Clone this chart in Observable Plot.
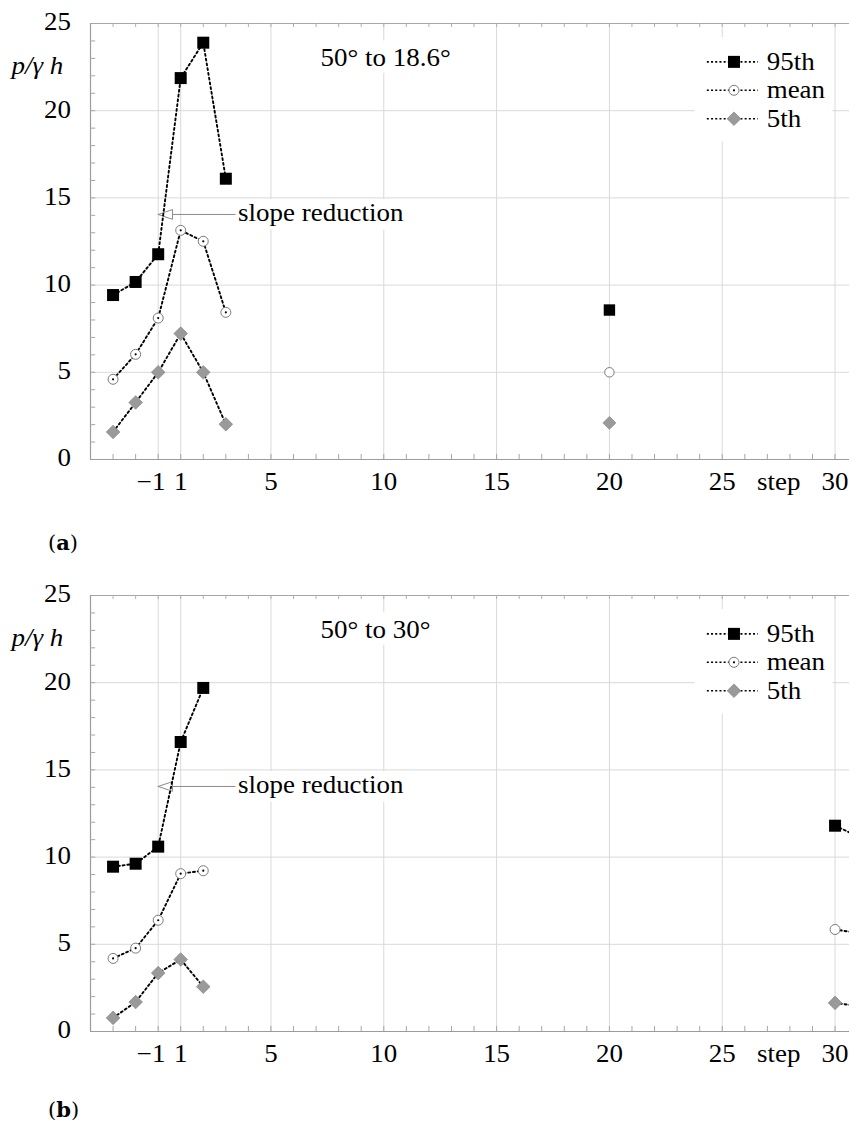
<!DOCTYPE html>
<html><head><meta charset="utf-8">
<script src="https://cdn.jsdelivr.net/npm/d3@7"></script>
<script src="https://cdn.jsdelivr.net/npm/@observablehq/plot@0.6"></script>
<style>
html,body{margin:0;padding:0;background:#fff;overflow:hidden;width:849px;height:1128px}
#root{position:relative;width:849px;height:1128px;background:#fff}
.panel{position:absolute;left:0;width:849px}
.panel svg{overflow:hidden;display:block}
.tag{position:absolute;left:48px;font-family:"DejaVu Serif",serif;font-size:21px;line-height:1;color:#000}
</style></head><body><div id="root">
<div class="panel" id="pa" style="top:0px"></div>
<div class="tag" style="top:532px">(<b>a</b>)</div>
<div class="panel" id="pb" style="top:572px"></div>
<div class="tag" style="top:1099px">(<b>b</b>)</div>
</div>
<script>
// ---------- data ----------
const SERIES = ["95th", "mean", "5th"];

// panel (a): 50° to 18.6°
const stepsA = [-3, -2, -1, 1, 2, 3];
const p95A  = [9.43, 10.18, 11.77, 21.87, 23.9, 16.1];
const meanA = [4.6, 6.03, 8.11, 13.14, 12.51, 8.44];
const p5A   = [1.58, 3.27, 5.0, 7.22, 5.0, 2.02];
const isoStepsA = [20];
const isoP95A  = [8.57];
const isoMeanA = [5.0];
const isoP5A   = [2.1];

// panel (b): 50° to 30°
const stepsB = [-3, -2, -1, 1, 2];
const p95B  = [9.45, 9.62, 10.6, 16.6, 19.7];
const meanB = [4.19, 4.78, 6.38, 9.05, 9.22];
const p5B   = [0.78, 1.69, 3.35, 4.13, 2.57];
const tailStepsB = [30, 31];
const tailP95B  = [11.8, 11.2];
const tailMeanB = [5.85, 5.65];
const tailP5B   = [1.64, 1.46];

// axes / labels
const xTickValues = [-1, 1, 5, 10, 15, 20, 25, 30];
const xTickLabels = ["−1", "1", "5", "10", "15", "20", "25", "30"];
const xAxisTitle = "step";
const yTickValues = [0, 5, 10, 15, 20, 25];
const yTickLabels = ["0", "5", "10", "15", "20", "25"];
const yAxisTitle = "p/γ h";
const panelTitles = ["50° to 18.6°", "50° to 30°"];
const annotationText = "slope reduction";
const annotationValue = 14.05;
const annotationStep = -1;

// ---------- style ----------
const FONT = '"Liberation Serif", "Times New Roman", serif';
const FS = 24.5;
const STRETCH = 1.1;
const DASH = "2,2.8";
const minorX = d3.range(-3, 31).filter(d => d !== 0);
const minorY = d3.range(1, 25);

const squareSym = {draw(ctx, size) {const r = Math.sqrt(size / Math.PI); ctx.rect(-r, -r, 2 * r, 2 * r);}};
const diamondSym = {draw(ctx, size) {const r = Math.sqrt(size / Math.PI); ctx.moveTo(0, -r); ctx.lineTo(r, 0); ctx.lineTo(0, r); ctx.lineTo(-r, 0); ctx.closePath();}};
const leftTriSym = {draw(ctx, size) {const r = Math.sqrt(size / Math.PI); ctx.moveTo(0, 0); ctx.lineTo(2.2 * r, -0.75 * r); ctx.lineTo(2.2 * r, 0.75 * r); ctx.closePath();}};

const STYLE = {
  "95th": {symbol: squareSym, r: 6, fill: "black", stroke: "none", strokeWidth: 0},
  "mean": {symbol: "circle", r: 5, fill: "white", stroke: "#7a7a7a", strokeWidth: 1},
  "5th":  {symbol: diamondSym, r: 6.8, fill: "#9a9a9a", stroke: "#858585", strokeWidth: 0.7}
};

function rows(steps, arrays, group) {
  return SERIES.flatMap((s, i) => steps.map((st, j) => ({series: s, step: st, value: arrays[i][j], group: s + group})));
}

const legendRows = SERIES.map((s, i) => ({series: s, y: 22.8 - i * 1.63}));

function dotsFor(data, scale) {
  return SERIES.map(s => {
    const st = STYLE[s];
    return Plot.dot(data.filter(d => d.series === s), {
      x: "step", y: "value", symbol: st.symbol, r: st.r * scale,
      fill: st.fill, stroke: st.stroke, strokeWidth: st.strokeWidth, clip: true
    });
  });
}

const T = {fontFamily: FONT, fontSize: FS, fill: "black"};

function drawPanel(el, {main, iso, tail, title}) {
  const lineData = main.concat(tail);
  const ticks = xTickValues.map((v, i) => ({v, label: xTickLabels[i]}));
  const marks = [
    // grid
    Plot.ruleX(xTickValues, {y1: 0, y2: 25, stroke: "#d9d9d9", strokeWidth: 1}),
    Plot.ruleY([5, 10, 15, 20], {stroke: "#d9d9d9", strokeWidth: 1}),
    // frame lines
    Plot.ruleY([25], {stroke: "#a6a6a6", strokeWidth: 1}),
    Plot.ruleY([0], {stroke: "#9c9c9c", strokeWidth: 1.2}),
    Plot.ruleX([-4], {y1: 0, y2: 25, stroke: "#9c9c9c", strokeWidth: 1.2}),
    // minor ticks
    Plot.ruleX(minorX, {y1: 0, y2: 0.29, stroke: "#a6a6a6"}),
    Plot.ruleX(minorX, {y1: 25, y2: 24.77, stroke: "#b0b0b0"}),
    Plot.ruleY(minorY, {x1: -4, x2: -3.77, stroke: "#a6a6a6"}),
    // white boxes behind texts
    Plot.rect([title], {x1: 7.0, x2: 12.0, y1: 22.15, y2: 24.0, fill: "white"}),
    Plot.rect([annotationText], {x1: 3.5, x2: 11.2, y1: 13.15, y2: 14.9, fill: "white"}),
    Plot.rect(["legend"], {x1: 23.8, x2: 29.9, y1: 18.2, y2: 24.2, fill: "white"}),
    // annotation arrow
    Plot.ruleY([annotationValue], {x1: annotationStep, x2: 3.45, stroke: "#8c8c8c", strokeWidth: 1}),
    Plot.dot([annotationValue], {x: annotationStep, y: d => d, symbol: leftTriSym, r: 6.5, fill: "white", stroke: "#8c8c8c", strokeWidth: 1}),
    Plot.text([annotationText], {x: 3.5, y: annotationValue, text: d => d, textAnchor: "start", dx: 1, dy: -1, ...T}),
    // title
    Plot.text([title], {x: 7.2, y: 23.0, text: d => d, textAnchor: "start", ...T}),
    // series lines
    Plot.line(lineData, {x: "step", y: "value", z: "group", stroke: "black", strokeWidth: 1.9, strokeDasharray: DASH, clip: true}),
    ...dotsFor(lineData, 1),
    Plot.dot(main.filter(d => d.series === "mean"), {x: "step", y: "value", r: 1.1, fill: "black"}),
    ...dotsFor(iso, 0.95),
    // legend
    Plot.ruleY(legendRows, {y: "y", x1: 24.34, x2: 26.6, stroke: "black", strokeWidth: 1.6, strokeDasharray: "2,2.2"}),
    ...SERIES.map(s => Plot.dot(legendRows.filter(d => d.series === s), {x: 25.52, y: "y", symbol: STYLE[s].symbol, r: STYLE[s].r, fill: STYLE[s].fill, stroke: STYLE[s].stroke, strokeWidth: STYLE[s].strokeWidth})),
    Plot.dot(legendRows.filter(d => d.series === "mean"), {x: 25.52, y: "y", r: 1.1, fill: "black"}),
    Plot.text(legendRows, {x: 26.97, y: "y", text: "series", textAnchor: "start", ...T}),
    // tick labels
    Plot.text(ticks.filter(d => d.v < 0), {x: "v", y: () => 0, text: "label", dy: 23, dx: -7, ...T}),
    Plot.text(ticks.filter(d => d.v > 0), {x: "v", y: () => 0, text: "label", dy: 23, ...T}),
    Plot.text([xAxisTitle], {x: 27.5, y: () => 0, text: d => d, dy: 23, ...T}),
    Plot.text(yTickValues.map((v, i) => ({v, label: yTickLabels[i]})), {x: () => -4, y: "v", text: "label", textAnchor: "end", dx: -19.5, dy: -1, ...T}),
    Plot.text([yAxisTitle], {frameAnchor: "top-left", text: d => d, textAnchor: "start", lineAnchor: "middle", dx: -79, dy: 43, fontStyle: "italic", ...T})
  ];
  const svg = Plot.plot({
    width: 849, height: 505,
    marginLeft: 90, marginRight: 0, marginTop: 23, marginBottom: 46,
    x: {type: "linear", domain: [-4, -1, 1, 30.64], range: [90, 157.7, 180.2, 849], axis: null},
    y: {type: "linear", domain: [0, 25], axis: null},
    style: {fontFamily: FONT, fontSize: FS + "px", background: "white", color: "black", overflow: "hidden"},
    marks
  });
  el.appendChild(svg);
  // slight horizontal stretch of glyphs, as in the reference
  svg.querySelectorAll("text").forEach(t => {
    const len = t.getComputedTextLength();
    if (len > 0) {
      t.setAttribute("textLength", (len * STRETCH).toFixed(2));
      t.setAttribute("lengthAdjust", "spacingAndGlyphs");
    }
  });
}

drawPanel(document.getElementById("pa"), {
  main: rows(stepsA, [p95A, meanA, p5A], ""),
  iso: rows(isoStepsA, [isoP95A, isoMeanA, isoP5A], "-iso"),
  tail: [],
  title: panelTitles[0]
});
drawPanel(document.getElementById("pb"), {
  main: rows(stepsB, [p95B, meanB, p5B], ""),
  iso: [],
  tail: rows(tailStepsB, [tailP95B, tailMeanB, tailP5B], "-tail"),
  title: panelTitles[1]
});
</script></body></html>
